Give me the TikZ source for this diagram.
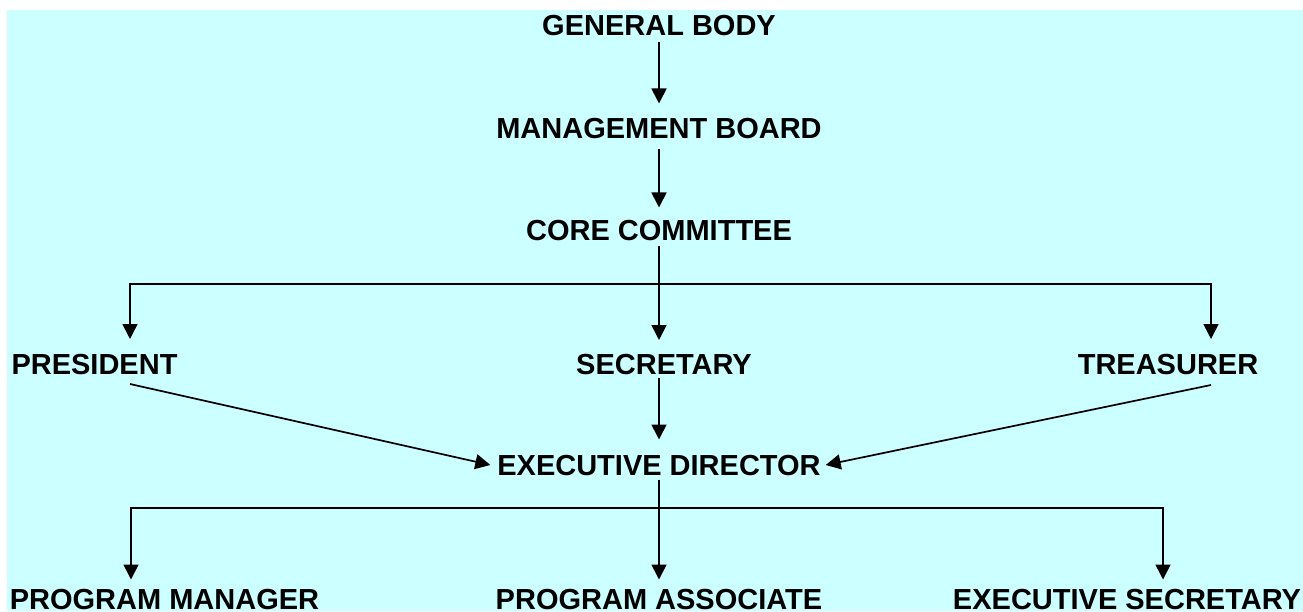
\documentclass[tikz,border=0pt]{standalone}
\usepackage{fontspec}
\setmainfont{Liberation Sans}
\usetikzlibrary{arrows.meta}
\definecolor{bgcyan}{RGB}{204,255,255}
\begin{document}
\begin{tikzpicture}[x=1pt,y=-1pt,
  lbl/.style={inner sep=0pt, outer sep=0pt, text height=21pt, text depth=0pt,
    font=\fontsize{29}{34}\selectfont\bfseries},
  conn/.style={line width=1.7pt, line cap=butt},
  arr/.style={conn, -{Triangle[length=15pt,width=15pt]}}]
\useasboundingbox (0,0) rectangle (1303,612);
\fill[bgcyan] (7,10) rectangle (1303,611);

\node[lbl] (gb) at (659,25) {GENERAL BODY};
\node[lbl] (mb) at (659,128) {MANAGEMENT BOARD};
\node[lbl] (cc) at (659,230) {CORE COMMITTEE};
\node[lbl] (pres) at (94.5,363.5) {PRESIDENT};
\node[lbl] (sec) at (664,363.5) {SECRETARY};
\node[lbl] (tre) at (1168,363.5) {TREASURER};
\node[lbl] (ed) at (659,465) {EXECUTIVE DIRECTOR};
\node[lbl] (pm) at (164.5,598.5) {PROGRAM MANAGER};
\node[lbl] (pa) at (659,598.5) {PROGRAM ASSOCIATE};
\node[lbl] (es) at (1127,598.5) {EXECUTIVE SECRETARY};

\coordinate (cj) at (659,284);
\coordinate (ej) at (659,508);

\draw[arr] ([yshift=-7pt]gb.south) -- ([yshift=14pt]mb.north);
\draw[arr] ([yshift=-11pt]mb.south) -- ([yshift=12pt]cc.north);
\draw[conn] ([yshift=-6pt]cc.south) -- (cj);
\draw[arr] (cj) -| ([xshift=35.5pt,yshift=14pt]pres.north);
\draw[arr] (cj) -| ([xshift=43pt,yshift=14pt]tre.north);
\draw[arr] (cj) -- ([xshift=-5pt,yshift=13pt]sec.north);

\draw[arr] ([xshift=-5pt,yshift=-4pt]sec.south) -- ([yshift=15pt]ed.north);
\draw[arr] ([xshift=35.5pt,yshift=-10pt]pres.south) -- ([xshift=-7pt]ed.west);
\draw[arr] ([xshift=43pt,yshift=-11pt]tre.south) -- ([xshift=5pt]ed.east);

\draw[conn] ([yshift=-4pt]ed.south) -- (ej);
\draw[arr] (ej) -| ([xshift=-33.5pt,yshift=8.5pt]pm.north);
\draw[arr] (ej) -| ([xshift=36pt,yshift=8.5pt]es.north);
\draw[arr] (ej) -- ([yshift=8.5pt]pa.north);
\end{tikzpicture}
\end{document}
